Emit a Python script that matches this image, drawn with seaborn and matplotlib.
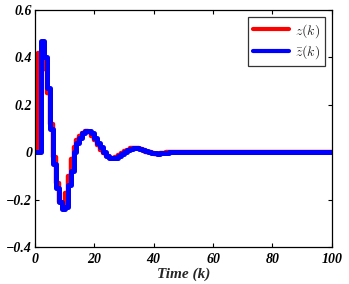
import numpy as np
import pandas as pd
import matplotlib
matplotlib.use("Agg")
import matplotlib.pyplot as plt
import seaborn as sns

# --- Datos ---
z = [0.0, 0.42, 0.42, 0.35, 0.25, 0.12, -0.02, -0.13, -0.21, -0.22,
     -0.17, -0.10, -0.03, 0.02, 0.05, 0.07, 0.08, 0.09, 0.085, 0.07,
     0.05, 0.03, 0.01, -0.005, -0.017, -0.023, -0.024, -0.02, -0.013, -0.005,
     0.004, 0.011, 0.016, 0.018, 0.017, 0.013, 0.008, 0.003, -0.001, -0.004,
     -0.006, -0.006, -0.005, -0.003, -0.001, 0.001, 0.002, 0.003, 0.003, 0.002,
     0.001, 0.0, -0.001, -0.001, -0.001, 0.0, 0.0, 0.001, 0.001, 0.001,
     0.0, 0.0, 0.0, 0.0, 0.0, 0.0, 0.0, 0.0, 0.0, 0.0,
     0.0, 0.0, 0.0, 0.0, 0.0, 0.0, 0.0, 0.0, 0.0, 0.0,
     0.0, 0.0, 0.0, 0.0, 0.0, 0.0, 0.0, 0.0, 0.0, 0.0,
     0.0, 0.0, 0.0, 0.0, 0.0, 0.0, 0.0, 0.0, 0.0, 0.0, 0.0]
z_bar = [0.0, 0.0, 0.47, 0.40, 0.27, 0.10, -0.05, -0.15, -0.21, -0.24,
         -0.23, -0.14, -0.08, 0.0, 0.04, 0.06, 0.08, 0.09, 0.09, 0.08,
         0.06, 0.04, 0.02, 0.0, -0.014, -0.023, -0.026, -0.024, -0.017, -0.008,
         0.001, 0.009, 0.015, 0.018, 0.018, 0.015, 0.01, 0.005, 0.0, -0.003,
         -0.005, -0.006, -0.005, -0.004, -0.002, 0.0, 0.001, 0.002, 0.003, 0.003,
         0.002, 0.001, 0.0, -0.001, -0.001, -0.001, 0.0, 0.0, 0.001, 0.001,
         0.0, 0.0, 0.0, 0.0, 0.0, 0.0, 0.0, 0.0, 0.0, 0.0,
         0.0, 0.0, 0.0, 0.0, 0.0, 0.0, 0.0, 0.0, 0.0, 0.0,
         0.0, 0.0, 0.0, 0.0, 0.0, 0.0, 0.0, 0.0, 0.0, 0.0,
         0.0, 0.0, 0.0, 0.0, 0.0, 0.0, 0.0, 0.0, 0.0, 0.0, 0.0]
k = np.arange(len(z))

x_ticks = [0, 20, 40, 60, 80, 100]
y_ticks = [-0.4, -0.2, 0, 0.2, 0.4, 0.6]
y_labels = ["\u22120.4", "\u22120.2", "0", "0.2", "0.4", "0.6"]

df = pd.DataFrame({"k": k, "z": z, "z_bar": z_bar})

# --- Estética ---
sns.set_theme(style="ticks")
plt.rcParams.update({
    "font.family": ["Liberation Serif", "DejaVu Serif"],
    "mathtext.fontset": "cm",
    "xtick.direction": "in",
    "ytick.direction": "in",
    "xtick.top": True,
    "ytick.right": True,
})

fig = plt.figure(figsize=(3.49, 2.84), dpi=100)
ax = fig.add_axes([0.100, 0.130, 0.851, 0.835])

sns.lineplot(data=df, x="k", y="z", ax=ax, color="red", lw=3.2,
             drawstyle="steps-post", label=r"$z(k)$")
sns.lineplot(data=df, x="k", y="z_bar", ax=ax, color="blue", lw=3.6,
             drawstyle="steps-post", label=r"$\bar{z}(k)$")

ax.set_xlim(0, 100)
ax.set_ylim(-0.4, 0.6)
ax.set_xticks(x_ticks)
ax.set_xticklabels([str(t) for t in x_ticks])
ax.set_yticks(y_ticks)
ax.set_yticklabels(y_labels)
for lab in ax.get_xticklabels() + ax.get_yticklabels():
    lab.set_fontweight("bold")
    lab.set_fontstyle("italic")
    lab.set_fontsize(10)
ax.tick_params(length=3, width=0.8, colors="black")
ax.tick_params(axis="x", pad=4)
ax.tick_params(axis="y", pad=2)
for sp in ax.spines.values():
    sp.set_linewidth(0.9)
    sp.set_color("black")

ax.set_xlabel("Time (k)", fontsize=11, fontweight="bold", fontstyle="italic", labelpad=1)
ax.set_ylabel("")

leg = ax.legend(loc="upper right", fontsize=10, frameon=True, fancybox=False,
                handlelength=2.6, borderpad=0.35, labelspacing=0.25,
                handletextpad=0.4, borderaxespad=0.5)
leg.get_frame().set_edgecolor("black")
leg.get_frame().set_linewidth(0.9)
for line in leg.get_lines():
    line.set_linewidth(3)

fig.savefig("out.png", dpi=100)
